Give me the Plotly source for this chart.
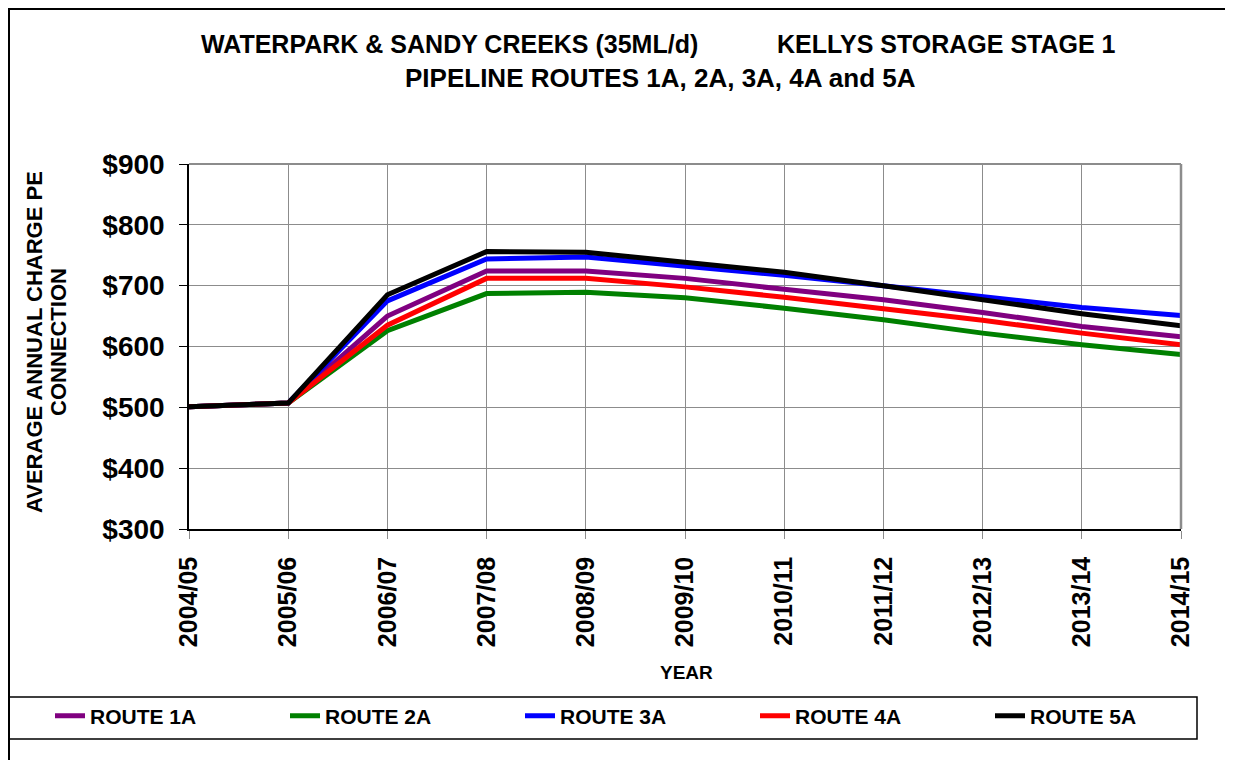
import plotly.graph_objects as go

years = ["2004/05", "2005/06", "2006/07", "2007/08", "2008/09", "2009/10",
         "2010/11", "2011/12", "2012/13", "2013/14", "2014/15"]
route_1a = [501, 507, 650, 724, 724, 712, 694, 677, 656, 633, 616]
route_2a = [501, 507, 626, 687, 689, 680, 663, 644, 622, 603, 587]
route_3a = [501, 507, 675, 744, 747, 733, 717, 700, 683, 664, 651]
route_4a = [501, 507, 635, 712, 712, 698, 681, 663, 643, 622, 603]
route_5a = [501, 507, 685, 756, 755, 738, 722, 700, 677, 654, 634]

series = [("ROUTE 1A", route_1a, "#800080"),
          ("ROUTE 2A", route_2a, "#008000"),
          ("ROUTE 3A", route_3a, "#0000FF"),
          ("ROUTE 4A", route_4a, "#FF0000"),
          ("ROUTE 5A", route_5a, "#000000")]

FONT = "Liberation Sans, Arial, sans-serif"

fig = go.Figure()
for name, vals, col in series:
    fig.add_trace(go.Scatter(x=years, y=vals, name=name, mode="lines",
                             line=dict(color=col, width=5)))

OFF = 8  # page body margin
W, H = 1225, 752
L, R, T, B = 181, 52, 156, 231
pw, ph = W - L - R, H - T - B

def px_x(p):  # page pixel -> paper x
    return (p - OFF - L) / pw

def px_y(p):  # page pixel -> paper y
    return (H - B - (p - OFF)) / ph

fig.update_layout(
    width=W, height=H,
    margin=dict(l=L, r=R, t=T, b=B),
    paper_bgcolor="white", plot_bgcolor="white",
    font=dict(family=FONT, color="black"),
    showlegend=True,
    legend=dict(orientation="h", x=px_x(50), xanchor="left", y=px_y(716), yanchor="middle",
                font=dict(family=FONT, size=21, weight="bold"),
                entrywidth=190, bgcolor="rgba(0,0,0,0)"),
    xaxis=dict(type="category", showgrid=True, gridcolor="#8c8c8c", gridwidth=1,
               showline=True, linecolor="black", linewidth=1.5,
               ticks="outside", ticklen=8, tickcolor="#8c8c8c",
               tickangle=-90, tickfont=dict(family=FONT, size=25, weight="bold"),
               ticklabelstandoff=8,
               range=[0, len(years) - 1], fixedrange=True),
    yaxis=dict(range=[300, 900], dtick=100, tickprefix="$", showgrid=True,
               gridcolor="#8c8c8c", gridwidth=1, zeroline=False,
               showline=True, linecolor="black", linewidth=1.5,
               ticks="outside", ticklen=8, tickcolor="black",
               ticklabelstandoff=9,
               tickfont=dict(family=FONT, size=28, weight="bold")),
)

# title
fig.add_annotation(text="WATERPARK &amp; SANDY CREEKS (35ML/d)",
                   xref="paper", yref="paper", x=px_x(199), y=px_y(44), showarrow=False,
                   xanchor="left", yanchor="middle",
                   font=dict(family=FONT, size=25, weight="bold"))
fig.add_annotation(text="KELLYS STORAGE STAGE 1",
                   xref="paper", yref="paper", x=px_x(1118), y=px_y(44), showarrow=False,
                   xanchor="right", yanchor="middle",
                   font=dict(family=FONT, size=25, weight="bold"))
fig.add_annotation(text="PIPELINE ROUTES 1A, 2A, 3A, 4A and 5A",
                   xref="paper", yref="paper", x=px_x(660), y=px_y(78), showarrow=False,
                   xanchor="center", yanchor="middle",
                   font=dict(family=FONT, size=26, weight="bold"))
# y-axis title (two rotated lines)
fig.add_annotation(text="AVERAGE ANNUAL CHARGE PE",
                   xref="paper", yref="paper", x=px_x(34), y=px_y(342), showarrow=False,
                   xanchor="center", yanchor="middle", textangle=-90,
                   font=dict(family=FONT, size=22, weight="bold"))
fig.add_annotation(text="CONNECTION",
                   xref="paper", yref="paper", x=px_x(58), y=px_y(342), showarrow=False,
                   xanchor="center", yanchor="middle", textangle=-90,
                   font=dict(family=FONT, size=22, weight="bold"))
# x-axis title
fig.add_annotation(text="YEAR",
                   xref="paper", yref="paper", x=px_x(686), y=px_y(672), showarrow=False,
                   xanchor="center", yanchor="middle",
                   font=dict(family=FONT, size=19, weight="bold"))

# right plot border (gray, slightly thicker) and top border
fig.add_shape(type="line", xref="paper", yref="paper", x0=1, x1=1, y0=0, y1=1,
              line=dict(color="#8c8c8c", width=2.5))
fig.add_shape(type="line", xref="paper", yref="paper", x0=0, x1=1, y0=1, y1=1,
              line=dict(color="#8c8c8c", width=2))

# legend box
fig.add_shape(type="rect", xref="paper", yref="paper",
              x0=px_x(9), x1=px_x(1197), y0=px_y(739), y1=px_y(697),
              line=dict(color="black", width=1.5), fillcolor="rgba(0,0,0,0)", layer="below")
# outer chart border
fig.add_shape(type="rect", xref="paper", yref="paper",
              x0=px_x(9), x1=px_x(1230), y0=px_y(800), y1=px_y(9),
              line=dict(color="black", width=2), fillcolor="rgba(0,0,0,0)", layer="below")

fig.write_html("out.html")
